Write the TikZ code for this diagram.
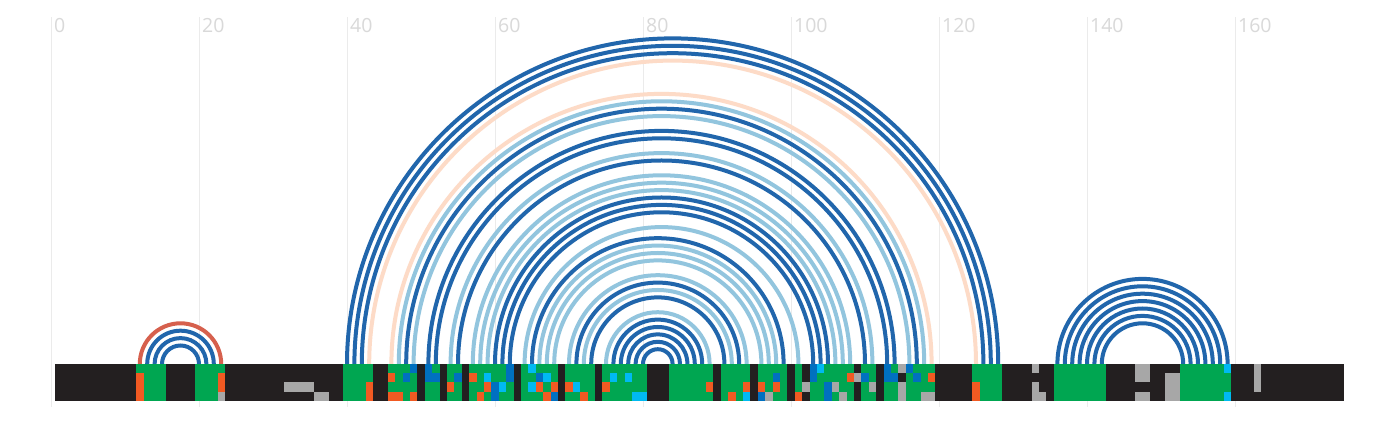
\documentclass[tikz,border=0pt]{standalone}
\usepackage{fontspec}
\setmainfont{Open Sans}
\definecolor{pairdark}{HTML}{2166AC}
\definecolor{pairlight}{HTML}{92C5DE}
\definecolor{pairpeach}{HTML}{FDDBC7}
\definecolor{pairred}{HTML}{D6604D}
\definecolor{blk}{HTML}{231F20}
\definecolor{grn}{HTML}{00A651}
\definecolor{org}{HTML}{F15A22}
\definecolor{gry}{HTML}{A7A7A7}
\definecolor{blu}{HTML}{0070C0}
\definecolor{cyn}{HTML}{00B9F2}
\definecolor{gridgray}{HTML}{EBEBEB}
\definecolor{ticktext}{HTML}{D9D9D9}
\begin{document}
\begin{tikzpicture}
  [x=7.4pt,y=7.4pt,
   pair/.style={line width=4pt},
   gridline/.style={draw=gridgray,line width=0.8pt},
   tick/.style={anchor=base west,inner sep=0pt,text=ticktext,font=\fontsize{19.5}{21}\selectfont}]
  \useasboundingbox[fill=white] (-6.892,-8.108) rectangle (181.216,49.189);

  \foreach \v in {0,20,...,160} {
    \draw[gridline] (\v,-5.8) -- (\v,46.9);
    \node[tick] (l\v) at (\v+0.4,44.8) {\v};
  }

  \foreach \from/\to in {13/22,14/21,15/20,40/128,41/127,42/126,48/117,51/114,52/113,
      55/110,60/105,61/104,62/103,65/99,71/93,73/91,76/88,77/87,78/86,79/85,80/84,
      136/159,137/158,138/157,139/156,140/155,141/154,142/153}
    \draw[pair,pairdark] (\from,0) arc[start angle=180,end angle=0,radius={(\to-\from)/2}];
  \foreach \from/\to in {47/118,49/116,54/111,57/108,58/107,59/106,64/101,66/98,67/97,
      68/96,70/94,72/92,75/89}
    \draw[pair,pairlight] (\from,0) arc[start angle=180,end angle=0,radius={(\to-\from)/2}];
  \foreach \from/\to in {43/125,46/119}
    \draw[pair,pairpeach] (\from,0) arc[start angle=180,end angle=0,radius={(\to-\from)/2}];
  \draw[pair,pairred] (12,0) arc[start angle=180,end angle=0,radius=5.5];

  % sequence strip
  \fill[blk] (0.5,0) rectangle (174.7,-5);
  \foreach \a/\b in {12/15,20/23,40/43,46/49,51/52,54/55,57/62,64/68,70/73,75/80,
      84/89,91/94,96/99,101/101,103/108,110/111,113/119,125/128,136/142,153/159}
    \fill[grn] (\a-0.5,0) rectangle (\b+0.5,-5);
  \foreach \n/\r/\c in {12/2/org,12/3/org,12/4/org,23/2/org,23/3/org,23/4/gry,
      32/3/gry,33/3/gry,34/3/gry,35/3/gry,36/4/gry,37/4/gry,
      43/3/org,43/4/org,46/2/org,46/4/org,47/4/org,48/2/blu,49/1/blu,49/4/org,
      51/1/blu,51/2/blu,52/2/blu,54/3/org,55/2/blu,
      57/2/org,58/4/org,59/2/cyn,59/3/org,60/3/blu,60/4/blu,61/3/cyn,62/1/blu,62/2/blu,
      65/1/cyn,65/3/cyn,66/2/blu,66/3/org,67/2/cyn,67/4/org,68/3/org,68/4/blu,
      70/3/org,71/3/cyn,72/4/org,75/3/org,76/2/cyn,78/2/cyn,79/4/cyn,80/4/cyn,
      89/3/org,92/4/org,94/3/org,94/4/cyn,96/3/org,96/4/blu,97/4/gry,98/2/blu,98/3/org,
      101/4/org,102/3/gry,103/1/blu,103/2/blu,104/1/cyn,105/3/blu,105/4/blu,106/3/gry,
      107/4/gry,108/2/org,109/2/gry,110/2/blu,111/3/gry,
      113/1/blu,113/2/blu,114/2/blu,115/1/gry,115/2/blk,115/3/gry,115/4/gry,116/1/blu,
      117/2/blu,118/4/gry,119/2/org,119/4/gry,125/3/org,125/4/org,
      133/1/gry,133/3/gry,133/4/gry,134/4/gry,147/1/gry,147/2/gry,147/4/gry,
      148/1/gry,148/2/gry,148/4/gry,151/2/gry,151/3/gry,151/4/gry,152/2/gry,152/3/gry,
      152/4/gry,159/1/cyn,159/4/cyn,163/1/gry,163/2/gry,163/3/gry}
    \fill[\c] (\n-0.5,{-(\r-1)*1.25}) rectangle (\n+0.5,{-\r*1.25});
\end{tikzpicture}
\end{document}
